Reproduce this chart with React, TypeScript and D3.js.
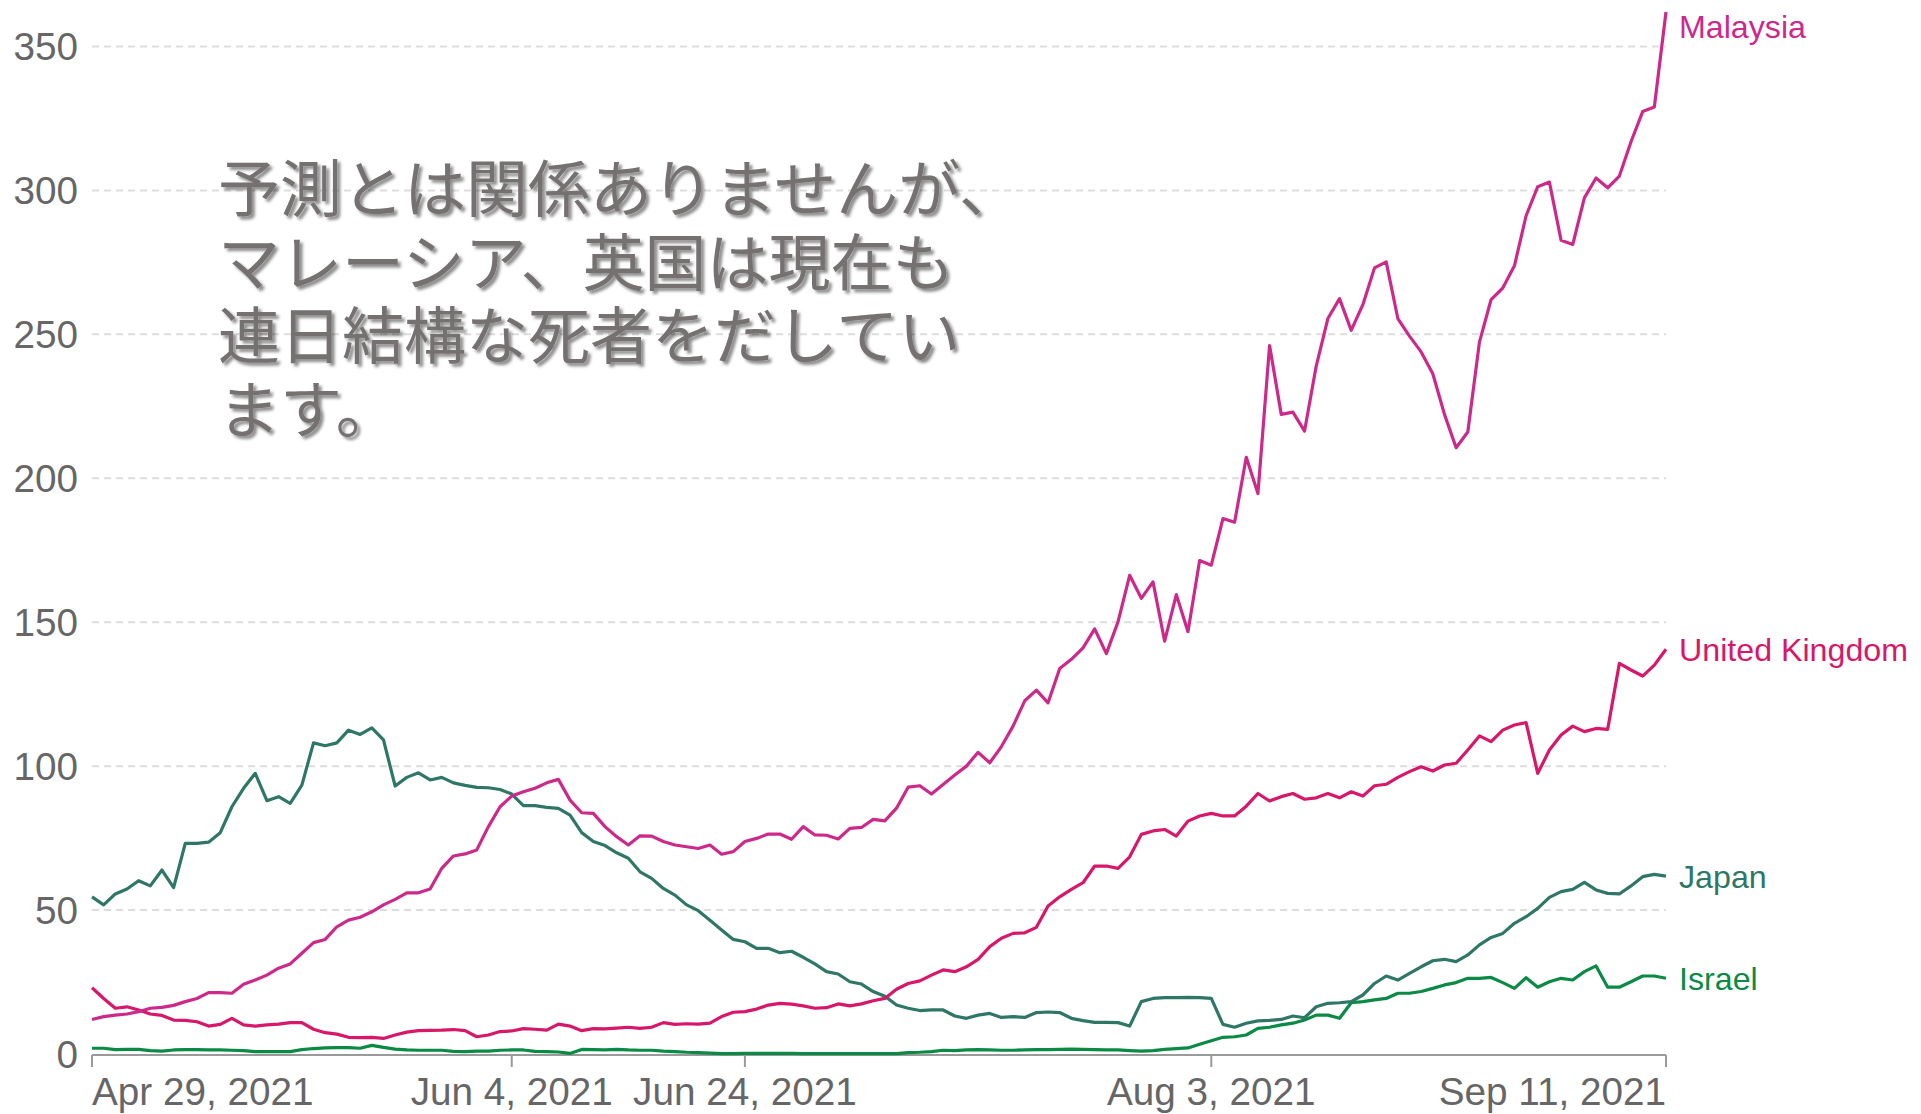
import React from "react";
import * as d3 from "d3";

// daily deaths, Apr 29 2021 .. Sep 11 2021 (one value per day)
const malaysia = [
  12.0, 13.0, 13.5, 13.9, 14.7, 15.9, 16.2, 16.9, 18.2, 19.3, 21.3, 21.3, 21.1, 24.2, 25.7, 27.4, 29.8,
  31.3, 35.0, 38.7, 39.8, 44.2, 46.5, 47.5, 49.4, 51.8, 53.7, 56.0, 56.0, 57.3, 64.5, 68.8, 69.5, 70.9,
  79.0, 85.9, 89.6, 91.1, 92.3, 94.2, 95.4, 88.2, 83.8, 83.6, 79.0, 75.5, 72.6, 75.8, 75.7, 73.8, 72.6,
  72.0, 71.4, 72.6, 69.4, 70.3, 73.8, 74.9, 76.4, 76.4, 74.6, 79.0, 76.1, 76.0, 74.7, 78.4, 78.7, 81.5,
  81.0, 85.4, 92.7, 93.2, 90.3, 93.6, 96.9, 100.0, 104.8, 101.2, 106.8, 113.9, 122.7, 126.4, 122.0, 133.9,
  137.1, 141.1, 147.7, 139.1, 150.1, 166.3, 158.3, 164.0, 143.4, 159.6, 146.7, 171.4, 169.8, 186.0, 184.7,
  207.3, 194.7, 246.1,
  222.2, 223.0, 216.4, 239.0, 255.5, 262.4, 251.4, 260.3, 273.1, 275.2, 255.5, 249.4, 243.9, 236.3, 222.2,
  210.6, 216.1, 247.3, 262.1, 266.1, 273.8, 291.2, 301.3, 302.9, 282.7, 281.2, 297.4, 304.3, 300.9, 305.0,
  316.9, 327.4, 329.0, 362.0,
];

const uk = [
  23.0, 19.3, 15.9, 16.4, 15.3, 13.9, 13.4, 11.8, 11.7, 11.2, 9.7, 10.3, 12.4, 10.1, 9.7, 10.1, 10.4,
  10.9, 10.9, 8.6, 7.4, 6.9, 5.8, 5.7, 5.8, 5.4, 6.6, 7.6, 8.1, 8.2, 8.3, 8.5, 8.1, 6.0,
  6.6, 7.8, 8.0, 8.8, 8.6, 8.3, 10.4, 9.7, 8.1, 8.8, 8.7, 9.0, 9.3, 8.9, 9.3, 10.9, 10.3, 10.5, 10.4,
  10.7, 13.0, 14.5, 14.7, 15.6, 17.0, 17.6, 17.3, 16.7, 15.9, 16.1, 17.4, 16.7, 17.4, 18.5,
  19.3, 22.5, 24.5, 25.4, 27.4, 29.2, 28.6, 30.3, 32.9, 37.3, 40.2, 41.9, 42.1, 44.0, 51.4, 54.6, 57.2,
  59.5, 65.3, 65.3, 64.5, 68.5, 76.3, 77.5, 78.0, 75.7, 80.9, 82.7, 83.6, 82.7, 82.7, 86.1, 90.5, 87.9,
  89.4, 90.5, 88.5, 89.0, 90.5, 89.0, 91.1, 89.6, 93.2, 93.7, 96.1, 98.1, 99.8, 98.3, 100.4, 101.0, 105.6,
  110.5, 108.5, 112.5, 114.3, 115.1, 97.5, 105.6, 110.8, 113.9, 112.0, 113.1, 112.8, 135.7, 133.4, 131.3,
  135.1, 140.6,
];

const japan = [
  54.6, 51.8, 55.6, 57.3, 60.2, 58.4, 63.9, 57.8, 73.2, 73.2, 73.6, 76.9, 85.9, 92.3, 97.5, 88.0, 89.4,
  87.1, 93.4, 108.1, 107.1, 108.1, 112.5, 111.0, 113.3, 109.1, 93.1, 96.1, 97.7, 95.2, 96.1, 94.2, 93.3, 92.6,
  92.5, 91.9, 90.3, 86.3, 86.3, 85.7, 85.3, 83.0, 76.9, 73.8, 72.4, 69.9, 68.0, 63.3, 61.0, 57.5, 55.2,
  51.8, 49.8, 46.5, 43.1, 39.8, 39.0, 36.7, 36.7, 35.2, 35.7, 33.6, 31.3, 28.6, 27.8, 25.1, 24.3, 21.7,
  20.1, 17.0, 15.9, 15.1, 15.3, 15.3, 13.2, 12.4, 13.5, 14.1, 12.7, 13.0, 12.7, 14.4, 14.6, 14.4, 12.4,
  11.6, 11.0, 11.0, 10.9, 9.7, 18.2, 19.3, 19.6, 19.6, 19.7, 19.6, 19.3, 10.3, 9.3, 10.7, 11.5, 11.7,
  12.0, 13.2, 12.6, 16.4, 17.6, 17.8, 18.2, 20.5, 24.5, 27.1, 25.7, 28.0, 30.3, 32.4, 32.9, 32.1, 34.4,
  37.9, 40.5, 41.9, 45.4, 47.7, 50.6, 54.4, 56.4, 57.2, 59.6, 57.0, 55.8, 55.6, 58.4, 61.6, 62.4, 61.8,
];

const israel = [
  2.0, 2.0, 1.5, 1.6, 1.6, 1.2, 1.0, 1.4, 1.5, 1.5, 1.4, 1.4, 1.3, 1.2, 0.8, 0.8, 0.8, 0.8, 1.5, 1.9,
  2.1, 2.2, 2.2, 2.0, 3.0, 2.3, 1.7, 1.4, 1.3, 1.3, 1.3, 0.9, 0.8, 1.0,
  1.0, 1.3, 1.4, 1.4, 0.9, 0.8, 0.7, 0.2, 1.6, 1.5, 1.4, 1.6, 1.4, 1.3, 1.3, 1.0, 0.8, 0.6, 0.5, 0.3,
  0.1, 0.1, 0.2, 0.2, 0.2, 0.2, 0.2, 0.1, 0.1, 0.1, 0.1, 0.1, 0.1, 0.1,
  0.1, 0.1, 0.5, 0.6, 0.8, 1.3, 1.2, 1.4, 1.5, 1.4, 1.3, 1.3, 1.4, 1.5, 1.5, 1.6, 1.7, 1.6, 1.5, 1.4,
  1.4, 1.2, 1.0, 1.2, 1.6, 1.9, 2.1, 3.4, 4.6, 5.8, 6.0, 6.6, 8.9, 9.3,
  10.1, 10.7, 11.8, 13.5, 13.5, 12.4, 17.8, 18.2, 18.8, 19.3, 21.1, 21.1, 21.7, 22.8, 24.0, 24.8, 26.3,
  26.3, 26.6, 24.8, 22.8, 26.5, 23.2, 25.1, 26.3, 25.7, 28.6, 30.6, 23.2, 23.2, 25.1, 27.1, 27.1, 26.3,
];

const seriesNames = ["Malaysia", "United Kingdom", "Japan", "Israel"];
const yTicks = [0, 50, 100, 150, 200, 250, 300, 350];
const xTickDates = ["2021-04-29", "2021-06-04", "2021-06-24", "2021-08-03", "2021-09-11"];
const note = [
  "予測とは関係ありませんが、",
  "マレーシア、英国は現在も",
  "連日結構な死者をだしてい",
  "ます。",
];

const colors = ["#cc2a8b", "#d6176a", "#2e7767", "#0a8a44"];
const fmt = d3.utcFormat("%b %-d, %Y");

export default function App() {
  const width = 1921;
  const height = 1114;
  const start = new Date(Date.UTC(2021, 3, 29));
  const end = new Date(Date.UTC(2021, 8, 11));

  const x = d3.scaleUtc().domain([start, end]).range([92, 1666]);
  const y = d3.scaleLinear().domain([0, 350]).range([1054, 46.5]);

  const all = [malaysia, uk, japan, israel];
  const day = (i) => d3.utcDay.offset(start, i);
  const line = d3
    .line()
    .x((d, i) => x(day(i)))
    .y((d) => y(d));

  const font = "'Liberation Sans', Arial, sans-serif";

  return (
    <svg
      width={width}
      height={height}
      style={{ position: "absolute", left: 0, top: 0, background: "#fff" }}
    >
      <defs>
        <filter id="shadow" x="-5%" y="-20%" width="110%" height="140%">
          <feDropShadow dx="3" dy="3" stdDeviation="1.6" floodColor="#000" floodOpacity="0.45" />
        </filter>
      </defs>

      {yTicks.filter((t) => t > 0).map((t) => (
        <line
          key={"g" + t}
          x1={92}
          x2={1666}
          y1={y(t)}
          y2={y(t)}
          stroke="#dddddd"
          strokeWidth={2}
          strokeDasharray="7,5"
        />
      ))}
      {yTicks.map((t) => (
        <text
          key={"y" + t}
          x={78}
          y={y(t)}
          dy="0.36em"
          textAnchor="end"
          fontFamily={font}
          fontSize={38.7}
          fill="#666"
        >
          {t}
        </text>
      ))}

      <line x1={92} x2={1666} y1={1055} y2={1055} stroke="#9a9a9a" strokeWidth={2} />
      {xTickDates.map((s, i) => {
        const dt = new Date(s + "T00:00:00Z");
        const px = x(dt);
        const anchor = i === 0 ? "start" : i === xTickDates.length - 1 ? "end" : "middle";
        return (
          <g key={s}>
            <line x1={px} x2={px} y1={1055} y2={1067} stroke="#9a9a9a" strokeWidth={2} />
            <text
              x={px}
              y={1105}
              textAnchor={anchor}
              fontFamily={font}
              fontSize={38.7}
              fill="#666"
            >
              {fmt(dt)}
            </text>
          </g>
        );
      })}

      {all
        .map((vals, k) => ({ vals, k }))
        .reverse()
        .map(({ vals, k }) => (
          <path
            key={seriesNames[k]}
            d={line(vals)}
            fill="none"
            stroke={colors[k]}
            strokeWidth={3.2}
            strokeLinejoin="round"
          />
        ))}

      {all.map((vals, k) => (
        <text
          key={"l" + k}
          x={1679}
          y={Math.max(y(vals[vals.length - 1]), 26)}
          dy="0.36em"
          fontFamily={font}
          fontSize={32.2}
          fill={colors[k]}
        >
          {seriesNames[k]}
        </text>
      ))}

      <text
        filter="url(#shadow)"
        x={218}
        y={212}
        fontFamily="'Noto Sans CJK JP', sans-serif"
        fontSize={62}
        fill="#767171"
      >
        {note.map((s, i) => (
          <tspan key={"n" + i} x={218} dy={i === 0 ? 0 : 73.5}>
            {s}
          </tspan>
        ))}
      </text>
    </svg>
  );
}
